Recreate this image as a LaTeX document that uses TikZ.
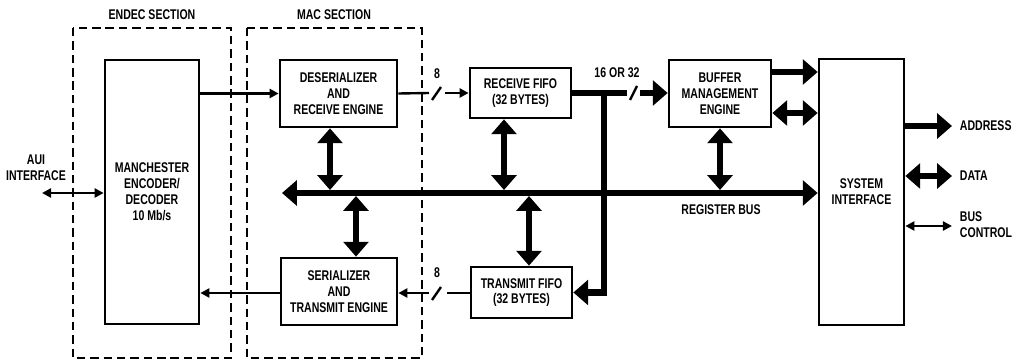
\documentclass[tikz,border=0pt]{standalone}
\usepackage{fontspec}
\setmainfont{Liberation Sans}[FakeStretch=0.75]
\usetikzlibrary{arrows.meta,calc}

\begin{document}
\begin{tikzpicture}[
    x=0.025cm,y=-0.025cm,
    font=\bfseries\fontsize{10}{11.3}\selectfont,
    blk/.style={draw,line width=1.9pt,align=center,inner sep=0pt},
    lbl/.style={align=center},
    sec/.style={line width=1.9pt,dash pattern=on 6pt off 3.5pt},
    sig/.style={line width=1.7pt},
    sigto/.style={sig,-{Triangle[length=6.5pt,width=6.5pt]}},
    sigboth/.style={sig,{Triangle[length=6.5pt,width=6.5pt]}-{Triangle[length=6.5pt,width=6.5pt]}},
    bus/.style={line width=4.6pt},
    busto/.style={bus,-{Triangle[length=10.5pt,width=17.5pt]}},
    busboth/.style={bus,{Triangle[length=10.5pt,width=17.5pt]}-{Triangle[length=10.5pt,width=17.5pt]}}
  ]
    \useasboundingbox (0,0) rectangle (1021,360);
    \draw[sec] (73,28) rectangle (231,358);
    \draw[sec] (247,28) rectangle (422,358);
    \node (endecl) at (152,15) {ENDEC SECTION};
    \node (macl) at (334,15) {MAC SECTION};
    \node[blk,minimum width=2.35cm,minimum height=6.6cm] (mcd) at (152,192) {MANCHESTER\\ENCODER/\\DECODER\\10 Mb/s};
    \node[blk,minimum width=2.925cm,minimum height=1.675cm] (des) at (338.5,93.5) {DESERIALIZER\\AND\\RECEIVE ENGINE};
    \node[blk,minimum width=2.9cm,minimum height=1.675cm] (ser) at (339,291.5) {SERIALIZER\\AND\\TRANSMIT ENGINE};
    \node[blk,minimum width=2.525cm,minimum height=1.25cm] (rxf) at (520.5,93) {RECEIVE FIFO\\(32 BYTES)};
    \node[blk,minimum width=2.525cm,minimum height=1.275cm] (txf) at (521.5,292.5) {TRANSMIT FIFO\\(32 BYTES)};
    \node[blk,minimum width=2.55cm,minimum height=1.675cm] (bme) at (720,93.5) {BUFFER\\MANAGEMENT\\ENGINE};
    \node[blk,minimum width=2.125cm,minimum height=6.65cm] (sif) at (861.5,192) {SYSTEM\\INTERFACE};
    \coordinate (aui) at (42,193); \coordinate (busl) at (282,193);
    \coordinate (s8a) at (437,93); \coordinate (s8b) at (437,293);
    \coordinate (s16) at (634,93); \coordinate (jn) at (604,93);
    \coordinate (adr) at (952,126); \coordinate (dat) at (952,176); \coordinate (bct) at (952,226);
    \node[lbl] (auil) at (36,168) {AUI\\INTERFACE};
    \draw[sigboth] (aui) -- (mcd.west |- aui);
    \draw[sigto] (mcd.east |- des) -- (des.west);
    \draw[sig] (des.east) -- ($(s8a)+(-8,0)$);
    \draw[sig] ($(s8a)+(-5,7)$) -- ($(s8a)+(4,-6)$);
    \draw[sigto] ($(s8a)+(8,0)$) -- (rxf.west);
    \node (n8a) at (437,74) {8};
    \draw[sig] (txf.west |- s8b) -- ($(s8b)+(10,0)$);
    \draw[sig] ($(s8b)+(-5,7)$) -- ($(s8b)+(4,-6)$);
    \draw[sigto] ($(s8b)+(-8,0)$) -- (ser.east |- s8b);
    \node (n8b) at (437,273) {8};
    \draw[sigto] (ser.west |- s8b) -- (mcd.east |- s8b);
    \draw[bus] (rxf.east |- s16) -- ($(s16)+(-7,0)$);
    \draw[sig] ($(s16)+(-4,7)$) -- ($(s16)+(3,-7)$);
    \draw[busto] ($(s16)+(6,0)$) -- (bme.west |- s16);
    \node (n16) at (617,73) {16 OR 32};
    \draw[busto] (jn) |- (txf.east);
    \draw[busboth] (busl) -- (sif.west |- busl);
    \node (regl) at (721,210) {REGISTER BUS};
    \foreach \n/\x in {des/330,rxf/504,bme/720} {\draw[busboth] (\x,0 |- \n.south) -- (\x,190);}
    \foreach \n/\x in {ser/356,txf/529} {\draw[busboth] (\x,196) -- (\x,0 |- \n.north);}
    \draw[busto] (bme.east |- 0,72) -- (sif.west |- 0,72);
    \draw[busboth] (bme.east |- 0,113) -- (sif.west |- 0,113);
    \draw[busto] (sif.east |- adr) -- (adr);
    \draw[busboth] (sif.east |- dat) -- (dat);
    \draw[sigboth] (sif.east |- bct) -- (bct);
    \node[anchor=west] (adrl) at (955,126) {ADDRESS};
    \node[anchor=west] (datl) at (955,176) {DATA};
    \node[anchor=west,align=left] (bctl) at (955,225) {BUS\\CONTROL};
  \end{tikzpicture}
\end{document}
